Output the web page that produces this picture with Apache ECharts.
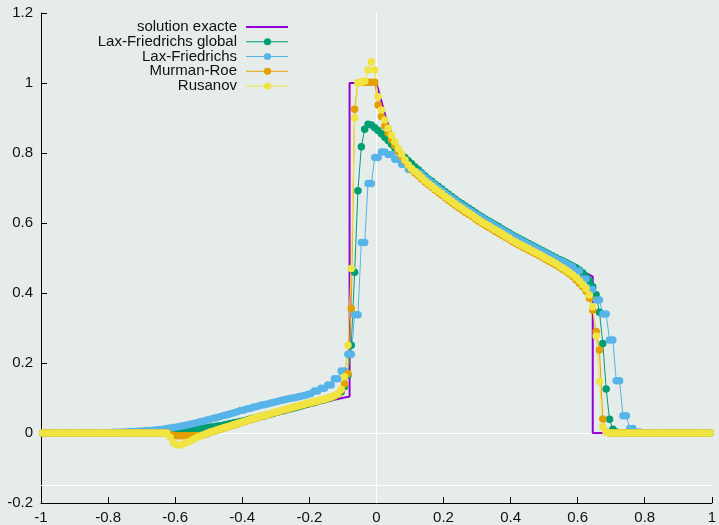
<!DOCTYPE html>
<html>
<head>
<meta charset="utf-8">
<script src="https://cdn.jsdelivr.net/npm/echarts@6/dist/echarts.min.js"></script>
<style>
html,body{margin:0;padding:0;background:#e5ecea;}
#chart{width:719px;height:525px;}
</style>
</head>
<body>
<div id="chart"></div>
<script>
// Cell-centred grid: x = -0.995 + 0.01*i, i = 0..199 (rows of 10 = 0.1 wide)
const nCells = 200, xFirst = -0.995, dx = 0.01;

const seriesNames = ['solution exacte', 'Lax-Friedrichs global', 'Lax-Friedrichs', 'Murman-Roe', 'Rusanov'];

// exact solution breakpoints
const exactX = [-1, -0.6, -0.08, -0.08, 0, 0.01, 0.02, 0.03, 0.04, 0.05, 0.07, 0.1, 0.15, 0.2, 0.25, 0.3, 0.35, 0.4, 0.45, 0.5, 0.55, 0.6, 0.645, 0.645, 1];
const exactY = [0, 0, 0.104, 1, 1, 0.965, 0.93, 0.895, 0.868, 0.845, 0.805, 0.773, 0.73, 0.693, 0.658, 0.626, 0.597, 0.569, 0.544, 0.519, 0.494, 0.47, 0.447, 0, 0];

const laxFriedrichsGlobal = [
  0,0,0,0,0,0,0,0,0,0,
  0,0,0,0,0,0,0,0,0,0,
  0,0,0,0,0.001,0.001,0.001,0.001,0.002,0.002,
  0.002,0.002,0.003,0.003,0.003,0.004,0.004,0.005,0.005,0.006,
  0.007,0.008,0.008,0.009,0.010,0.011,0.012,0.013,0.014,0.015,
  0.017,0.018,0.020,0.021,0.023,0.025,0.027,0.029,0.031,0.033,
  0.035,0.037,0.040,0.042,0.044,0.047,0.049,0.052,0.054,0.057,
  0.059,0.062,0.064,0.067,0.069,0.072,0.074,0.077,0.080,0.082,
  0.085,0.087,0.090,0.093,0.095,0.098,0.101,0.105,0.110,0.117,
  0.133,0.165,0.251,0.459,0.692,0.818,0.868,0.882,0.880,0.872,
  0.864,0.855,0.845,0.836,0.825,0.815,0.805,0.796,0.787,0.778,
  0.769,0.760,0.752,0.743,0.734,0.726,0.719,0.711,0.704,0.697,
  0.689,0.682,0.675,0.668,0.661,0.655,0.648,0.642,0.636,0.629,
  0.623,0.617,0.611,0.606,0.600,0.594,0.589,0.583,0.577,0.572,
  0.566,0.561,0.556,0.551,0.546,0.541,0.536,0.531,0.526,0.521,
  0.516,0.511,0.506,0.501,0.496,0.492,0.487,0.482,0.477,0.472,
  0.466,0.458,0.448,0.435,0.418,0.395,0.345,0.256,0.126,0.039,
  0.011,0.003,0,0,0,0,0,0,0,0,
  0,0,0,0,0,0,0,0,0,0,
  0,0,0,0,0,0,0,0,0,0
];

const laxFriedrichs = [
  0,0,0,0,0,0,0,0,0,0,
  0,0,0,0,0,0,0,0.001,0.001,0.001,
  0.001,0.002,0.002,0.002,0.003,0.003,0.004,0.004,0.005,0.005,
  0.006,0.007,0.007,0.008,0.009,0.010,0.011,0.013,0.014,0.016,
  0.017,0.019,0.021,0.023,0.025,0.027,0.029,0.032,0.034,0.037,
  0.039,0.042,0.044,0.047,0.050,0.052,0.055,0.058,0.061,0.064,
  0.066,0.069,0.071,0.074,0.076,0.079,0.081,0.083,0.086,0.088,
  0.090,0.093,0.095,0.097,0.099,0.101,0.103,0.105,0.107,0.110,
  0.113,0.120,0.120,0.128,0.128,0.137,0.137,0.155,0.155,0.177,
  0.177,0.225,0.225,0.338,0.338,0.544,0.544,0.713,0.713,0.787,
  0.787,0.803,0.803,0.796,0.796,0.782,0.782,0.768,0.768,0.753,
  0.753,0.748,0.745,0.739,0.730,0.722,0.715,0.707,0.700,0.693,
  0.685,0.678,0.671,0.664,0.657,0.651,0.644,0.638,0.632,0.625,
  0.620,0.614,0.608,0.603,0.597,0.591,0.586,0.580,0.574,0.569,
  0.563,0.558,0.553,0.548,0.543,0.538,0.533,0.528,0.523,0.518,
  0.513,0.508,0.503,0.498,0.493,0.489,0.484,0.479,0.474,0.463,
  0.463,0.440,0.440,0.410,0.410,0.380,0.380,0.340,0.340,0.266,
  0.266,0.149,0.149,0.049,0.049,0.013,0.013,0.003,0.003,0.001,
  0,0,0,0,0,0,0,0,0,0,
  0,0,0,0,0,0,0,0,0,0
];

const murmanRoe = [
  0,0,0,0,0,0,0,0,0,0,
  0,0,0,0,0,0,0,0,0,0,
  0,0,0,0,0,0,0,0,0,0,
  0,0,0,0,0,0,0,0,-0.004,-0.007,
  -0.008,-0.008,-0.008,-0.008,-0.008,-0.008,-0.008,-0.007,-0.005,-0.002,
  0.002,0.005,0.008,0.011,0.014,0.017,0.020,0.023,0.026,0.029,
  0.032,0.035,0.038,0.041,0.044,0.047,0.049,0.052,0.055,0.058,
  0.060,0.063,0.066,0.068,0.071,0.074,0.076,0.079,0.081,0.084,
  0.086,0.089,0.091,0.094,0.096,0.099,0.102,0.106,0.111,0.122,
  0.140,0.170,0.356,0.925,1.001,1.002,1.002,1.002,1.002,1.002,
  0.937,0.904,0.877,0.857,0.838,0.822,0.806,0.791,0.777,0.764,
  0.752,0.743,0.735,0.726,0.717,0.709,0.702,0.694,0.687,0.680,
  0.672,0.665,0.658,0.651,0.644,0.638,0.631,0.625,0.619,0.612,
  0.605,0.599,0.593,0.588,0.582,0.576,0.571,0.565,0.559,0.554,
  0.547,0.542,0.537,0.532,0.527,0.522,0.517,0.512,0.507,0.502,
  0.496,0.491,0.486,0.480,0.474,0.468,0.462,0.455,0.447,0.438,
  0.428,0.418,0.405,0.385,0.351,0.290,0.237,0.040,0.003,0,
  0,0,0,0,0,0,0,0,0,0,
  0,0,0,0,0,0,0,0,0,0,
  0,0,0,0,0,0,0,0,0,0
];

const rusanov = [
  0,0,0,0,0,0,0,0,0,0,
  0,0,0,0,0,0,0,0,0,0,
  0,0,0,0,0,0,0,0,0,0,
  0,0,0,0,0,0,0,0,-0.012,-0.028,
  -0.034,-0.034,-0.031,-0.027,-0.023,-0.018,-0.013,-0.009,-0.005,-0.001,
  0.003,0.006,0.009,0.012,0.015,0.018,0.021,0.024,0.027,0.030,
  0.033,0.036,0.039,0.042,0.045,0.048,0.050,0.053,0.056,0.059,
  0.061,0.064,0.067,0.069,0.072,0.075,0.077,0.080,0.082,0.085,
  0.087,0.090,0.092,0.095,0.097,0.100,0.103,0.107,0.112,0.125,
  0.161,0.251,0.470,0.900,1.001,1.003,1.006,1.037,1.061,1.037,
  0.961,0.923,0.894,0.871,0.851,0.832,0.813,0.797,0.780,0.766,
  0.756,0.747,0.739,0.730,0.721,0.713,0.706,0.698,0.691,0.684,
  0.676,0.669,0.662,0.655,0.648,0.642,0.635,0.629,0.623,0.616,
  0.609,0.603,0.597,0.592,0.586,0.580,0.575,0.569,0.563,0.558,
  0.551,0.546,0.541,0.536,0.531,0.526,0.521,0.516,0.511,0.506,
  0.500,0.495,0.490,0.484,0.478,0.472,0.466,0.459,0.452,0.444,
  0.435,0.424,0.412,0.394,0.361,0.277,0.147,0.018,0.002,0,
  0,0,0,0,0,0,0,0,0,0,
  0,0,0,0,0,0,0,0,0,0,
  0,0,0,0,0,0,0,0,0,0
];

const xTicks = { min: -1, max: 1, interval: 0.2 };
const yTicks = { min: -0.2, max: 1.2, interval: 0.2 };
const refLinesY = [0, -0.155];
const refLinesX = [0];

const colors = ['#9400d3', '#009e73', '#56b4e9', '#e69f00', '#f0e442'];

const xs = Array.from({ length: nCells }, (_, i) => +(xFirst + dx * i).toFixed(3));
const pairs = arr => arr.map((v, i) => [xs[i], v]);
const exactData = exactX.map((x, i) => [x, exactY[i]]);

const FONT = '"Liberation Sans", Arial, Helvetica, sans-serif';
const chart = echarts.init(document.getElementById('chart'), null, { renderer: 'canvas' });

const numSeries = [laxFriedrichsGlobal, laxFriedrichs, murmanRoe, rusanov];

const series = [{
  name: seriesNames[0],
  type: 'line',
  data: exactData,
  symbol: 'none',
  lineStyle: { color: colors[0], width: 2 },
  z: 2,
  markLine: {
    silent: true,
    symbol: 'none',
    z: 1,
    label: { show: false },
    lineStyle: { color: '#ffffff', width: 1, type: 'solid' },
    emphasis: { disabled: true },
    data: refLinesY.map(v => ({ yAxis: v })).concat(refLinesX.map(v => ({ xAxis: v })))
  }
}];
numSeries.forEach((arr, k) => {
  series.push({
    name: seriesNames[k + 1],
    type: 'line',
    data: pairs(arr),
    symbol: 'circle',
    symbolSize: 7.5,
    showSymbol: true,
    showAllSymbol: true,
    itemStyle: { color: colors[k + 1], borderWidth: 0 },
    lineStyle: { color: colors[k + 1], width: 1 },
    z: 2
  });
});

// legend (gnuplot style: right-aligned text, sample on the right)
const legendTop = 27, legendStep = 14.75, legendTextRight = 237, sampleX1 = 246, sampleX2 = 288;
const graphic = [];
seriesNames.forEach((name, k) => {
  const y = legendTop + legendStep * k;
  graphic.push({
    type: 'text', x: legendTextRight, y: y, silent: true,
    style: { text: name, align: 'right', verticalAlign: 'middle', fill: '#111', font: '15px ' + FONT }
  });
  graphic.push({
    type: 'line', silent: true,
    shape: { x1: sampleX1, y1: y, x2: sampleX2, y2: y },
    style: { stroke: colors[k], lineWidth: k === 0 ? 2 : 1 }
  });
  if (k > 0) {
    graphic.push({
      type: 'circle', silent: true,
      shape: { cx: (sampleX1 + sampleX2) / 2 + 0.5, cy: y, r: 3.6 },
      style: { fill: colors[k] }
    });
  }
});

chart.setOption({
  animation: false,
  backgroundColor: '#e5ecea',
  textStyle: { fontFamily: FONT },
  grid: { left: 41, right: 5, top: 13, bottom: 22, containLabel: false },
  xAxis: {
    type: 'value', min: xTicks.min, max: xTicks.max, interval: xTicks.interval,
    axisLine: { show: true, onZero: false, lineStyle: { color: '#000', width: 1 } },
    axisTick: { show: true, inside: true, length: 6, lineStyle: { color: '#000' } },
    axisLabel: { color: '#111', fontSize: 15, margin: 7, fontFamily: FONT },
    splitLine: { show: false }
  },
  yAxis: {
    type: 'value', min: yTicks.min, max: yTicks.max, interval: yTicks.interval,
    axisLine: { show: true, onZero: false, lineStyle: { color: '#000', width: 1 } },
    axisTick: { show: true, inside: true, length: 6, lineStyle: { color: '#000' } },
    axisLabel: { color: '#111', fontSize: 15, margin: 8, fontFamily: FONT },
    splitLine: { show: false }
  },
  series: series,
  graphic: graphic
});
</script>
</body>
</html>
